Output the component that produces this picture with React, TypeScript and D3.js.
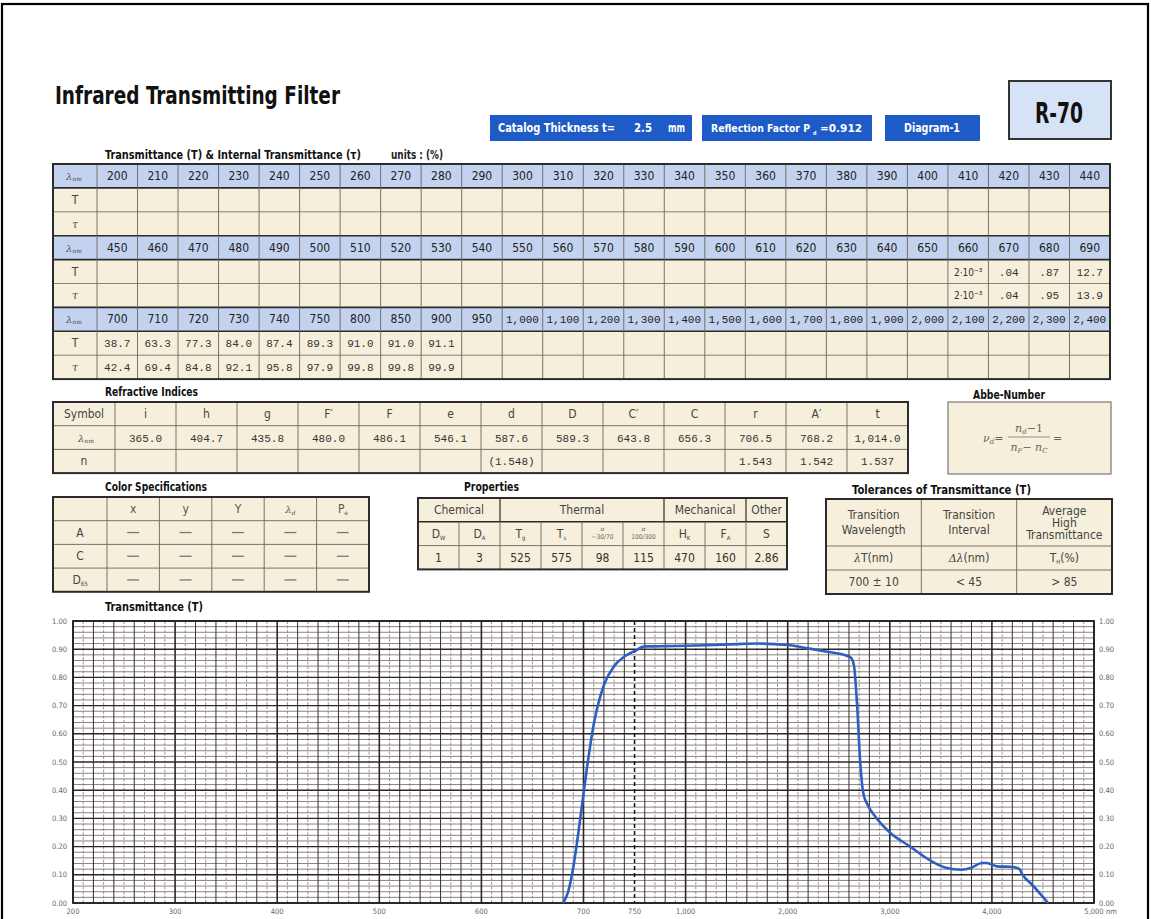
import React from 'react';
import * as d3 from 'd3';

// ---------------- DATA ----------------
const lambdaRow1 = ["200","210","220","230","240","250","260","270","280","290","300","310","320","330","340","350","360","370","380","390","400","410","420","430","440"];
const T_row1: string[] = [];
const tau_row1: string[] = [];
const lambdaRow2 = ["450","460","470","480","490","500","510","520","530","540","550","560","570","580","590","600","610","620","630","640","650","660","670","680","690"];
const T_row2 = ["","","","","","","","","","","","","","","","","","","","","","2·10⁻³",".04",".87","12.7"];
const tau_row2 = ["","","","","","","","","","","","","","","","","","","","","","2·10⁻³",".04",".95","13.9"];
const lambdaRow3 = ["700","710","720","730","740","750","800","850","900","950","1,000","1,100","1,200","1,300","1,400","1,500","1,600","1,700","1,800","1,900","2,000","2,100","2,200","2,300","2,400"];
const T_row3 = ["38.7","63.3","77.3","84.0","87.4","89.3","91.0","91.0","91.1"];
const tau_row3 = ["42.4","69.4","84.8","92.1","95.8","97.9","99.8","99.8","99.9"];

const riSymbols = ["i","h","g","F′","F","e","d","D","C′","C","r","A′","t"];
const riLambda = ["365.0","404.7","435.8","480.0","486.1","546.1","587.6","589.3","643.8","656.3","706.5","768.2","1,014.0"];
const riN = ["","","","","","","(1.548)","","","","1.543","1.542","1.537"];

const colorCols = ["x","y","Y","λd","Pe"];
const colorRows = ["A","C","D65"];

const propGroups = [["Chemical",2],["Thermal",4],["Mechanical",2],["Other",1]] as [string, number][];
const propSymbols = ["DW","DA","Tg","Ts","α|−30/70","α|100/300","HK","FA","S"];
const propValues = ["1","3","525","575","98","115","470","160","2.86"];

const tolHeads = [["Transition","Wavelength"],["Transition","Interval"],["Average","High","Transmittance"]];
const tolUnits = ["λT(nm)","Δλ(nm)","TH(%)"];
const tolValues = ["700 ± 10","< 45","> 85"];

// curve: wavelength (nm), transmittance (0-1)
const curveWl = [680,685,690,695,700,705,710,720,730,740,750,800,850,900,1000,1200,1500,1700,2000,2200,2400,2550,2620,2650,2680,2710,2740,2780,2850,3000,3200,3400,3550,3700,3800,3900,3950,4050,4200,4270,4300,4380,4480,4550];
const curveT = [0,0.04,0.127,0.25,0.387,0.52,0.633,0.773,0.84,0.874,0.893,0.91,0.91,0.911,0.912,0.914,0.918,0.92,0.915,0.903,0.89,0.88,0.87,0.84,0.70,0.50,0.39,0.35,0.31,0.25,0.20,0.15,0.125,0.118,0.125,0.142,0.142,0.13,0.128,0.12,0.10,0.07,0.03,0];

const xBreaks = [200,300,400,500,600,700,750,1000,2000,3000,4000,5000];
const xBreakPos = [0,1,2,3,4,5,5.5,6,7,8,9,10];
const xLabels = [200,300,400,500,600,700,750,1000,2000,3000,4000];
const yTicks = d3.range(0, 1.0001, 0.1);

// ---------------- STYLE ----------------
const SANS = "'Liberation Sans Narrow','DejaVu Sans Condensed','Arial Narrow',sans-serif";
const MONO = "'Liberation Mono','DejaVu Sans Mono',monospace";
const SERIF = "'DejaVu Serif','Liberation Serif',serif";
const CREAM = "#f6efdb";
const HEADBLUE = "#c3d3ef";
const LINE = "#6b6560";
const DARK = "#2b2b2b";
const TXT = "#333";

function splitSub(s: string): [string, string] {
  if (s.startsWith("λ") || s.startsWith("Δ")) {
    const m = s.match(/^(Δ?λ)(.*)$/);
    return m ? [m[1], m[2]] : [s, ""];
  }
  return [s.slice(0, 1), s.slice(1)];
}

const Heading = ({ x, y, w, children, size = 12, anchor = "start" }: any) => (
  <text x={x} y={y} fontFamily={SANS} fontWeight="bold" fontSize={size} fill="#111" textAnchor={anchor}
    textLength={w} lengthAdjust="spacingAndGlyphs">{children}</text>
);

// ---------------- TABLE 1 ----------------
function TransTable() {
  const x0 = 53, x1 = 1110, labelW = 44, y0 = 164, rowH = 23.9;
  const col = d3.scaleBand<number>().domain(d3.range(25)).range([x0 + labelW, x1]);
  const row = d3.scaleBand<number>().domain(d3.range(9)).range([y0, y0 + 9 * rowH]);
  const groups = [
    { head: lambdaRow1, T: T_row1, tau: tau_row1 },
    { head: lambdaRow2, T: T_row2, tau: tau_row2 },
    { head: lambdaRow3, T: T_row3, tau: tau_row3 },
  ];
  const bw = col.bandwidth();
  const elems: any[] = [];
  groups.forEach((g, gi) => {
    const rh = gi * 3, rT = gi * 3 + 1, rTau = gi * 3 + 2;
    elems.push(<rect key={`h${gi}`} x={x0} y={row(rh)} width={x1 - x0} height={rowH} fill={HEADBLUE} />);
    elems.push(<rect key={`c${gi}`} x={x0} y={row(rT)} width={x1 - x0} height={rowH * 2} fill={CREAM} />);
    const yc = (r: number) => (row(r) as number) + rowH / 2 + 4;
    elems.push(
      <text key={`hl${gi}`} x={x0 + 13} y={yc(rh)} fontFamily={SERIF} fontStyle="italic" fontSize={10} fill="#555">
        λ<tspan fontSize={6} fontStyle="normal" dy={1}>nm</tspan>
      </text>
    );
    elems.push(<text key={`tl${gi}`} x={x0 + labelW / 2} y={yc(rT)} textAnchor="middle" fontFamily={SANS} fontSize={12} fill="#444">T</text>);
    elems.push(<text key={`ul${gi}`} x={x0 + labelW / 2} y={yc(rTau)} textAnchor="middle" fontFamily={SERIF} fontStyle="italic" fontSize={11} fill="#555">τ</text>);
    g.head.forEach((h, i) => {
      const isComma = h.includes(",");
      elems.push(
        <text key={`hv${gi}-${i}`} x={(col(i) as number) + bw / 2} y={yc(rh)} textAnchor="middle"
          fontFamily={isComma ? MONO : SANS} fontSize={isComma ? 11 : 12} fill="#222">{h}</text>
      );
    });
    [g.T, g.tau].forEach((vals, k) => {
      vals.forEach((v, i) => {
        if (!v) return;
        const small = v.includes("·");
        elems.push(
          <text key={`v${gi}-${k}-${i}`} x={(col(i) as number) + bw / 2} y={yc(rT + k)} textAnchor="middle"
            fontFamily={small ? SANS : MONO} fontSize={small ? 10 : 11} fill={TXT}>{v}</text>
        );
      });
    });
  });
  for (let r = 1; r < 9; r++) {
    const y = row(r) as number;
    const thick = r % 3 === 0 || r % 3 === 1;
    elems.push(<line key={`hr${r}`} x1={x0} x2={x1} y1={y} y2={y} stroke={thick ? DARK : LINE} strokeWidth={thick ? 1.6 : 0.8} />);
  }
  for (let i = 0; i < 25; i++) {
    const x = col(i) as number;
    elems.push(<line key={`vc${i}`} x1={x} x2={x} y1={y0} y2={y0 + 9 * rowH} stroke={LINE} strokeWidth={0.9} />);
  }
  elems.push(<rect key="border" x={x0} y={y0} width={x1 - x0} height={9 * rowH} fill="none" stroke={DARK} strokeWidth={2} />);
  return (
    <g>
      <Heading x={105} y={159} w={256} size={11.5}>Transmittance (T) &amp; Internal Transmittance (τ)</Heading>
      <text x={391} y={159} fontFamily={SANS} fontWeight="bold" fontSize={11.5} fill="#222" textLength={52} lengthAdjust="spacingAndGlyphs">units : (%)</text>
      {elems}
    </g>
  );
}

// ---------------- REFRACTIVE INDICES ----------------
function RefrTable() {
  const x0 = 53, x1 = 908, labelW = 62, y0 = 402, rowH = 23.7;
  const col = d3.scaleBand<number>().domain(d3.range(riSymbols.length)).range([x0 + labelW, x1]);
  const row = d3.scaleBand<number>().domain(d3.range(3)).range([y0, y0 + 3 * rowH]);
  const bw = col.bandwidth();
  const yc = (r: number) => (row(r) as number) + rowH / 2 + 4;
  return (
    <g>
      <Heading x={105} y={396} w={93}>Refractive Indices</Heading>
      <rect x={x0} y={y0} width={x1 - x0} height={3 * rowH} fill={CREAM} />
      {d3.range(1, 3).map(r => (
        <line key={r} x1={x0} x2={x1} y1={row(r)} y2={row(r)} stroke={LINE} strokeWidth={0.9} />
      ))}
      {d3.range(riSymbols.length).map(i => (
        <line key={i} x1={col(i)} x2={col(i)} y1={y0} y2={y0 + 3 * rowH} stroke={LINE} strokeWidth={0.9} />
      ))}
      <text x={x0 + labelW / 2} y={yc(0)} textAnchor="middle" fontFamily={SANS} fontSize={12} fill="#444">Symbol</text>
      <text x={x0 + labelW / 2 - 6} y={yc(1)} fontFamily={SERIF} fontStyle="italic" fontSize={10} fill="#555">
        λ<tspan fontSize={6} fontStyle="normal" dy={1}>nm</tspan>
      </text>
      <text x={x0 + labelW / 2} y={yc(2)} textAnchor="middle" fontFamily={SANS} fontSize={12} fill="#444">n</text>
      {riSymbols.map((s, i) => (
        <text key={`s${i}`} x={(col(i) as number) + bw / 2} y={yc(0)} textAnchor="middle" fontFamily={SANS} fontSize={12} fill="#444">{s}</text>
      ))}
      {riLambda.map((s, i) => (
        <text key={`l${i}`} x={(col(i) as number) + bw / 2} y={yc(1)} textAnchor="middle" fontFamily={MONO} fontSize={11} fill={TXT}>{s}</text>
      ))}
      {riN.map((s, i) => s ? (
        <text key={`n${i}`} x={(col(i) as number) + bw / 2} y={yc(2)} textAnchor="middle" fontFamily={MONO} fontSize={11} fill={TXT}>{s}</text>
      ) : null)}
      <rect x={x0} y={y0} width={x1 - x0} height={3 * rowH} fill="none" stroke={DARK} strokeWidth={2} />
    </g>
  );
}

function AbbeBox() {
  return (
    <g>
      <Heading x={1009} y={399} w={72} anchor="middle">Abbe-Number</Heading>
      <rect x={948} y={402} width={163} height={72} fill={CREAM} stroke="#777" strokeWidth={1.2} />
      <text x={983} y={442} fontFamily={SERIF} fontStyle="italic" fontSize={11} fill="#666">
        ν<tspan fontSize={7} dy={2}>d</tspan><tspan dy={-2} fontStyle="normal">=</tspan>
      </text>
      <text x={1029} y={432} textAnchor="middle" fontFamily={SERIF} fontStyle="italic" fontSize={11} fill="#666">
        n<tspan fontSize={7} dy={2}>d</tspan><tspan dy={-2} fontStyle="normal">−1</tspan>
      </text>
      <line x1={1008} x2={1050} y1={437} y2={437} stroke="#777" strokeWidth={0.8} />
      <text x={1029} y={451} textAnchor="middle" fontFamily={SERIF} fontStyle="italic" fontSize={11} fill="#666">
        n<tspan fontSize={7} dy={2}>F</tspan><tspan dy={-2} fontStyle="normal">− </tspan>n<tspan fontSize={7} dy={2}>C</tspan>
      </text>
      <text x={1053} y={442} fontFamily={SERIF} fontSize={11} fill="#666">=</text>
    </g>
  );
}

function ColorTable() {
  const x0 = 53, x1 = 369, labelW = 54, y0 = 497, rowH = 23.7;
  const col = d3.scaleBand<number>().domain(d3.range(5)).range([x0 + labelW, x1]);
  const row = d3.scaleBand<number>().domain(d3.range(4)).range([y0, y0 + 4 * rowH]);
  const bw = col.bandwidth();
  const yc = (r: number) => (row(r) as number) + rowH / 2 + 4;
  return (
    <g>
      <Heading x={105} y={491} w={102}>Color Specifications</Heading>
      <rect x={x0} y={y0} width={x1 - x0} height={4 * rowH} fill={CREAM} />
      {d3.range(1, 4).map(r => (
        <line key={r} x1={x0} x2={x1} y1={row(r)} y2={row(r)} stroke={LINE} strokeWidth={0.9} />
      ))}
      {d3.range(5).map(i => (
        <line key={i} x1={col(i)} x2={col(i)} y1={y0} y2={y0 + 4 * rowH} stroke={LINE} strokeWidth={0.9} />
      ))}
      {colorCols.map((c, i) => {
        const [b, s] = splitSub(c);
        return (
          <text key={c} x={(col(i) as number) + bw / 2} y={yc(0)} textAnchor="middle" fontFamily={c.startsWith("λ") ? SERIF : SANS}
            fontStyle={c.startsWith("λ") ? "italic" : "normal"} fontSize={c.startsWith("λ") ? 10 : 12} fill="#555">
            {b}{s && <tspan fontSize={6} dy={2}>{s}</tspan>}
          </text>
        );
      })}
      {colorRows.map((r, ri) => {
        const [b, s] = splitSub(r);
        return (
          <g key={r}>
            <text x={x0 + labelW / 2} y={yc(ri + 1)} textAnchor="middle" fontFamily={SANS} fontSize={12} fill="#444">
              {b}{s && <tspan fontSize={6} dy={2}>{s}</tspan>}
            </text>
            {colorCols.map((c, i) => (
              <line key={c} x1={(col(i) as number) + bw / 2 - 6} x2={(col(i) as number) + bw / 2 + 6}
                y1={(row(ri + 1) as number) + rowH / 2} y2={(row(ri + 1) as number) + rowH / 2} stroke="#777" strokeWidth={1.3} />
            ))}
          </g>
        );
      })}
      <rect x={x0} y={y0} width={x1 - x0} height={4 * rowH} fill="none" stroke={DARK} strokeWidth={2} />
    </g>
  );
}

function PropTable() {
  const x0 = 418, x1 = 787, y0 = 498, rowH = 23.8;
  const col = d3.scaleBand<number>().domain(d3.range(9)).range([x0, x1]);
  const row = d3.scaleBand<number>().domain(d3.range(3)).range([y0, y0 + 3 * rowH]);
  const bw = col.bandwidth();
  const yc = (r: number) => (row(r) as number) + rowH / 2 + 4;
  let acc = 0;
  const spans = propGroups.map(([name, n]) => { const s = { name, start: acc, n }; acc += n; return s; });
  return (
    <g>
      <Heading x={464} y={491} w={55}>Properties</Heading>
      <rect x={x0} y={y0} width={x1 - x0} height={3 * rowH} fill={CREAM} />
      <line x1={x0} x2={x1} y1={row(1)} y2={row(1)} stroke={DARK} strokeWidth={1.4} />
      <line x1={x0} x2={x1} y1={row(2)} y2={row(2)} stroke={LINE} strokeWidth={0.9} />
      {d3.range(1, 9).map(i => (
        <line key={i} x1={col(i)} x2={col(i)} y1={row(1)} y2={y0 + 3 * rowH} stroke={LINE} strokeWidth={0.9} />
      ))}
      {spans.slice(1).map(s => (
        <line key={s.name} x1={col(s.start)} x2={col(s.start)} y1={y0} y2={row(1)} stroke={DARK} strokeWidth={1.2} />
      ))}
      {spans.map(s => (
        <text key={s.name} x={(col(s.start) as number) + (s.n * bw) / 2} y={yc(0)} textAnchor="middle" fontFamily={SANS} fontSize={12} fill="#444">{s.name}</text>
      ))}
      {propSymbols.map((p, i) => {
        const cx = (col(i) as number) + bw / 2;
        if (p.includes("|")) {
          const [a, b] = p.split("|");
          return (
            <g key={i}>
              <text x={cx} y={(row(1) as number) + 9} textAnchor="middle" fontFamily={SERIF} fontStyle="italic" fontSize={6} fill="#666">{a}</text>
              <text x={cx} y={(row(1) as number) + 17} textAnchor="middle" fontFamily={SANS} fontSize={6.5} fill="#666">{b}</text>
            </g>
          );
        }
        const [bs, sb] = splitSub(p);
        return (
          <text key={i} x={cx} y={yc(1)} textAnchor="middle" fontFamily={SANS} fontSize={12} fill="#444">
            {bs}{sb && <tspan fontSize={6} dy={2}>{sb}</tspan>}
          </text>
        );
      })}
      {propValues.map((v, i) => (
        <text key={i} x={(col(i) as number) + bw / 2} y={yc(2)} textAnchor="middle" fontFamily={SANS} fontSize={12} fill={TXT}>{v}</text>
      ))}
      <rect x={x0} y={y0} width={x1 - x0} height={3 * rowH} fill="none" stroke={DARK} strokeWidth={2} />
    </g>
  );
}

function TolTable() {
  const x0 = 826, x1 = 1112, y0 = 499;
  const col = d3.scaleBand<number>().domain(d3.range(3)).range([x0, x1]);
  const rowEdges = [y0, 546, 570, 594];
  const bw = col.bandwidth();
  return (
    <g>
      <Heading x={852} y={494} w={179}>Tolerances of Transmittance (T)</Heading>
      <rect x={x0} y={y0} width={x1 - x0} height={rowEdges[3] - y0} fill={CREAM} />
      {rowEdges.slice(1, 3).map(y => (
        <line key={y} x1={x0} x2={x1} y1={y} y2={y} stroke={LINE} strokeWidth={0.9} />
      ))}
      {d3.range(1, 3).map(i => (
        <line key={i} x1={col(i)} x2={col(i)} y1={y0} y2={rowEdges[3]} stroke={LINE} strokeWidth={0.9} />
      ))}
      {tolHeads.map((lines, i) => {
        const cx = (col(i) as number) + bw / 2;
        const lh = lines.length === 3 ? 12 : 15;
        const start = (y0 + rowEdges[1]) / 2 - ((lines.length - 1) * lh) / 2 + 4;
        return lines.map((l, k) => (
          <text key={`${i}-${k}`} x={cx} y={start + k * lh} textAnchor="middle" fontFamily={SANS} fontSize={12} fill="#444">{l}</text>
        ));
      })}
      {tolUnits.map((u, i) => {
        const cx = (col(i) as number) + bw / 2;
        const y = (rowEdges[1] + rowEdges[2]) / 2 + 4;
        if (u.startsWith("TH")) {
          return <text key={i} x={cx} y={y} textAnchor="middle" fontFamily={SANS} fontSize={12} fill="#444">T<tspan fontSize={6} dy={2}>H</tspan><tspan dy={-2}>(%)</tspan></text>;
        }
        const m = u.match(/^(Δ?λ)(.*)$/)!;
        return <text key={i} x={cx} y={y} textAnchor="middle" fontFamily={SANS} fontSize={12} fill="#444"><tspan fontFamily={SERIF} fontStyle="italic" fontSize={11}>{m[1]}</tspan>{m[2]}</text>;
      })}
      {tolValues.map((v, i) => (
        <text key={i} x={(col(i) as number) + bw / 2} y={(rowEdges[2] + rowEdges[3]) / 2 + 4} textAnchor="middle" fontFamily={SANS} fontSize={12} fill="#444">{v}</text>
      ))}
      <rect x={x0} y={y0} width={x1 - x0} height={rowEdges[3] - y0} fill="none" stroke={DARK} strokeWidth={2} />
    </g>
  );
}

// ---------------- CHART ----------------
function Chart() {
  const plotL = 73, plotR = 1094, plotT = 621, plotB = 903;
  const seg = (plotR - plotL) / 10;
  const x = d3.scaleLinear().domain(xBreaks).range(xBreakPos.map(k => plotL + k * seg));
  const y = d3.scaleLinear().domain([0, 1]).range([plotB, plotT]);

  const minorSpecs: [number, number, number][] = [[200, 700, 10], [700, 750, 10], [750, 1000, 50], [1000, 5000, 100]];
  const majors = [200, 300, 400, 500, 600, 700, 1000, 2000, 3000, 4000, 5000];
  const vLines: { x: number; kind: string }[] = [];
  minorSpecs.forEach(([a, b, s]) => {
    for (let v = a + s; v < b; v += s) {
      if (majors.includes(v) || v === 750) continue;
      const px = x(v);
      const idx = Math.round((px - plotL) / (seg / 10));
      vLines.push({ x: px, kind: idx % 2 === 0 ? "mid" : "minor" });
    }
  });
  const hMinor = d3.range(0.02, 1, 0.02).filter(v => Math.abs(v * 10 - Math.round(v * 10)) > 1e-6);

  const pts = curveWl.map((w, i) => [w, curveT[i]] as [number, number]);
  const line = d3.line<[number, number]>().x(d => x(d[0])).y(d => y(d[1])).curve(d3.curveMonotoneX);
  const fmt = d3.format(".2f");
  const fmtX = d3.format(",");
  const lab = { fontFamily: SANS, fontSize: 7.5, fill: "#666" };

  return (
    <g>
      <Heading x={105} y={611} w={98}>Transmittance (T)</Heading>
      <rect x={plotL} y={plotT} width={plotR - plotL} height={plotB - plotT} fill="#fff" />
      {hMinor.map(v => (
        <line key={`hm${v}`} x1={plotL} x2={plotR} y1={y(v)} y2={y(v)} stroke="#6e6262" strokeWidth={0.8} />
      ))}
      {vLines.map((l, i) => (
        <line key={`vm${i}`} x1={l.x} x2={l.x} y1={plotT} y2={plotB}
          stroke={l.kind === "mid" ? "#3a3030" : "#8a7a7a"} strokeWidth={l.kind === "mid" ? 1 : 0.8}
          strokeDasharray={l.kind === "mid" ? undefined : "3,1.5"} />
      ))}
      {yTicks.map(v => (
        <line key={`hM${v}`} x1={plotL} x2={plotR} y1={y(v)} y2={y(v)} stroke="#2e2626" strokeWidth={1.4} />
      ))}
      {majors.map(v => (
        <line key={`vM${v}`} x1={x(v)} x2={x(v)} y1={plotT} y2={plotB} stroke="#2e2626" strokeWidth={1.6} />
      ))}
      <line x1={x(750)} x2={x(750)} y1={plotT} y2={plotB} stroke="#111" strokeWidth={1.5} strokeDasharray="4,3" />
      <rect x={plotL} y={plotT} width={plotR - plotL} height={plotB - plotT} fill="none" stroke="#2a2222" strokeWidth={1.8} />
      <path d={line(pts) || ""} fill="none" stroke="#2d5fc2" strokeWidth={2.6} strokeLinejoin="round" />
      {yTicks.map(v => (
        <g key={`yl${v}`}>
          <text x={plotL - 6} y={y(v) + 2.5} textAnchor="end" {...lab}>{fmt(v)}</text>
          <text x={plotR + 5} y={y(v) + 2.5} {...lab}>{fmt(v)}</text>
        </g>
      ))}
      {xLabels.map(v => (
        <text key={`xl${v}`} x={x(v)} y={plotB + 11} textAnchor="middle" {...lab}>{fmtX(v)}</text>
      ))}
      <text x={x(5000)} y={plotB + 11} textAnchor="middle" {...lab}>{fmtX(5000)}</text>
      <text x={x(5000) + 12} y={plotB + 11} {...lab}>nm</text>
    </g>
  );
}

const BoxText = ({ x, y, w, children, anchor = "start", size = 11.5 }: any) => (
  <text x={x} y={y} fontFamily={SANS} fontWeight="bold" fontSize={size} fill="#fff" textAnchor={anchor}
    textLength={w} lengthAdjust="spacingAndGlyphs">{children}</text>
);

export default function App() {
  return (
    <svg width={1151} height={919} viewBox="0 0 1151 919" style={{ position: 'absolute', left: 0, top: 0, display: 'block', background: '#fff' }}>
      <rect x={0} y={0} width={1151} height={919} fill="#fff" />
      <rect x={2} y={4} width={1146} height={930} fill="none" stroke="#000" strokeWidth={2.2} />
      <text x={55} y={104} fontFamily={SANS} fontWeight="bold" fontSize={24} fill="#111" textLength={285} lengthAdjust="spacingAndGlyphs">
        Infrared Transmitting Filter
      </text>

      <rect x={490} y={115} width={202} height={26} fill="#1e5bc6" />
      <BoxText x={498} y={132} w={117}>Catalog Thickness t=</BoxText>
      <BoxText x={634} y={132} w={18}>2.5</BoxText>
      <BoxText x={668} y={132} w={17}>mm</BoxText>

      <rect x={702} y={115} width={170} height={26} fill="#1e5bc6" />
      <BoxText x={711} y={132} w={99} size={10}>Reflection Factor P</BoxText>
      <BoxText x={813} y={135} w={3.5} size={5.5}>d</BoxText>
      <BoxText x={820} y={132} w={42} size={10}>=0.912</BoxText>

      <rect x={885} y={115} width={95} height={26} fill="#1e5bc6" />
      <BoxText x={904} y={132} w={56}>Diagram-1</BoxText>

      <rect x={1009} y={81} width={102} height={58} fill="#d6e2f6" stroke="#333" strokeWidth={2} />
      <text x={1035} y={123} fontFamily={SANS} fontWeight="bold" fontSize={29} fill="#111" textLength={48} lengthAdjust="spacingAndGlyphs">R-70</text>

      <TransTable />
      <RefrTable />
      <AbbeBox />
      <ColorTable />
      <PropTable />
      <TolTable />
      <Chart />
    </svg>
  );
}
